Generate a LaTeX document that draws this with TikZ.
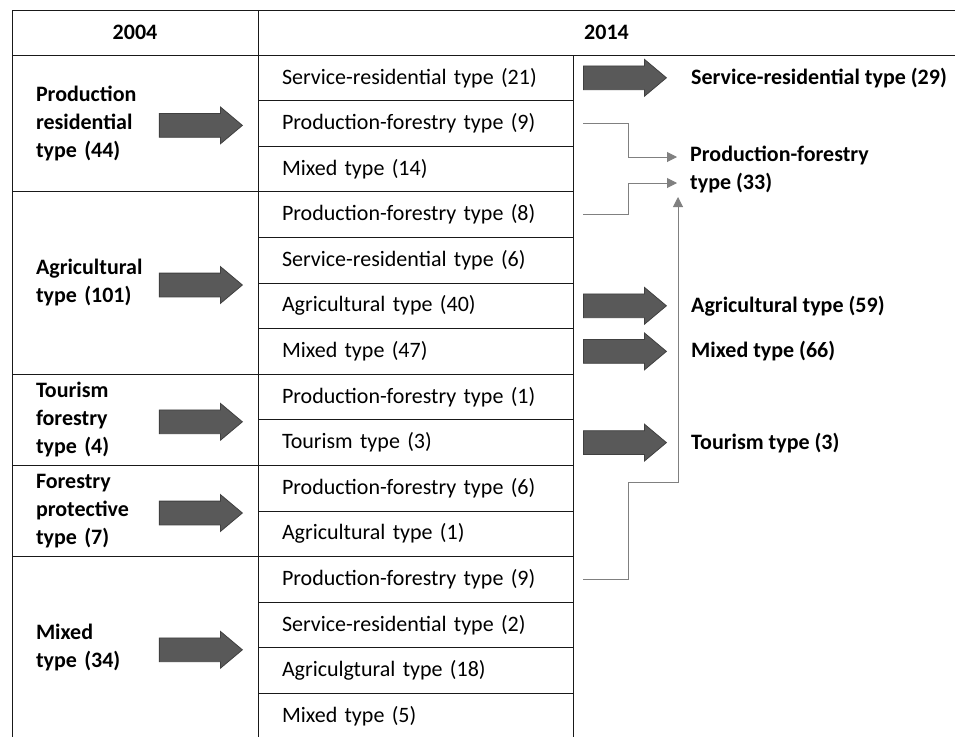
\documentclass[tikz,border=0pt]{standalone}
\usepackage{fontspec}
\setmainfont{Carlito}
\usetikzlibrary{shapes,arrows.meta,positioning}
\definecolor{arrowgray}{HTML}{595959}
\definecolor{linkgray}{HTML}{808080}
\tikzset{
  every node/.style={
    font=\fontsize{22}{28}\selectfont
  },
  rule/.style={
    draw=black!90,
    line width=1pt,
    outer sep=0pt
  },
  hdr/.style={
    rule,
    anchor=north west,
    minimum height=45pt,
    inner sep=0pt,
    font=\fontsize{22}{28}\selectfont\bfseries
  },
  cell/.style={
    rule,
    anchor=north west,
    minimum width=315pt,
    minimum height=45.6pt,
    inner xsep=24pt,
    inner ysep=0pt,
    text width=267pt,
    align=left
  },
  group/.style={
    rule,
    anchor=north west,
    minimum width=246pt,
    minimum height=#1,
    inner xsep=24pt,
    inner ysep=0pt,
    text width=198pt,
    align=left,
    font=\fontsize{22}{28}\selectfont\bfseries
  },
  bigarrow/.style={
    single arrow,
    draw=black!75,
    fill=arrowgray,
    line width=0.8pt,
    inner xsep=0pt,
    inner ysep=11.5pt,
    minimum height=83pt,
    minimum width=36pt,
    single arrow head extend=6.5pt,
    single arrow tip angle=80
  },
  lbl/.style={
    anchor=west,
    inner sep=0pt,
    align=left,
    font=\fontsize{22}{28}\selectfont\bfseries
  },
  link/.style={
    draw=linkgray,
    line width=1pt,
    -{Triangle[length=10pt,width=10pt]}
  }
}

\begin{document}
\begin{tikzpicture}[x=1pt,y=-1pt]
  \useasboundingbox (0,0) rectangle (955,736);

  % header
  \node [hdr, minimum width=246pt] (h04) at (12,10) {2004};
  \node [hdr, draw=none, minimum width=697pt] (h14) at (258,10) {2014};
  \draw [rule] (h14.north west) -- (h14.north east)
               (h14.south west) -- (h14.south east);

  % 2004 groups
  \node [group=136.8pt] (g1) at (12,55) {Production\\residential\\type (44)};
  \node [group=182.4pt, below=0pt of g1] (g2) {Agricultural\\type (101)};
  \node [group=91.2pt, below=0pt of g2] (g3) {Tourism\\forestry\\type (4)};
  \node [group=91.2pt, below=0pt of g3] (g4) {Forestry\\protective\\type (7)};
  \node [group=182.4pt, below=0pt of g4] (g5) {Mixed\\type (34)};
  \foreach \g in {1,...,5}
    \node [bigarrow, left=15pt of g\g.east, yshift=-2pt] (a\g) {};

  % 2014 rows
  \foreach \txt [count=\i] in {
      Service-residential type (21),
      Production-forestry type (9),
      Mixed type (14),
      Production-forestry type (8),
      Service-residential type (6),
      Agricultural type (40),
      Mixed type (47),
      Production-forestry type (1),
      Tourism type (3),
      Production-forestry type (6),
      Agricultural type (1),
      Production-forestry type (9),
      Service-residential type (2),
      Agriculgtural type (18),
      Mixed type (5)}
    \node [cell] (c\i) at (258,{55+(\i-1)*45.6}) {\txt};

  % results
  \node [bigarrow, right=10pt of c1.east] (r1) {};
  \node [bigarrow, right=10pt of c6.east] (r6) {};
  \node [bigarrow, right=10pt of c7.east] (r7) {};
  \node [bigarrow, right=10pt of c9.east] (r9) {};
  \node [lbl, right=24pt of r1.east] (lsr) {Service-residential type (29)};
  \node [lbl] (lpf) at (690,169) {Production-forestry\\type (33)};
  \node [lbl, right=24pt of r6.east] (lag) {Agricultural type (59)};
  \node [lbl, right=24pt of r7.east] (lmx) {Mixed type (66)};
  \node [lbl, right=24pt of r9.east] (ltr) {Tourism type (3)};

  \coordinate (pf1) at ([xshift=-13pt,yshift=12pt]lpf.west);
  \coordinate (pf2) at ([xshift=-13pt,yshift=-14pt]lpf.west);
  \coordinate (pf3) at ([xshift=-12pt,yshift=-28pt]lpf.west);
  \draw [link] ([xshift=10pt]c2.east) -- ++(45,0) |- (pf1);
  \draw [link] ([xshift=10pt]c4.east) -- ++(45,0) |- (pf2);
  \draw [link] ([xshift=10pt]c12.east) -- ++(45,0) -- ++(0,-97.4) -| (pf3);
\end{tikzpicture}
\end{document}
